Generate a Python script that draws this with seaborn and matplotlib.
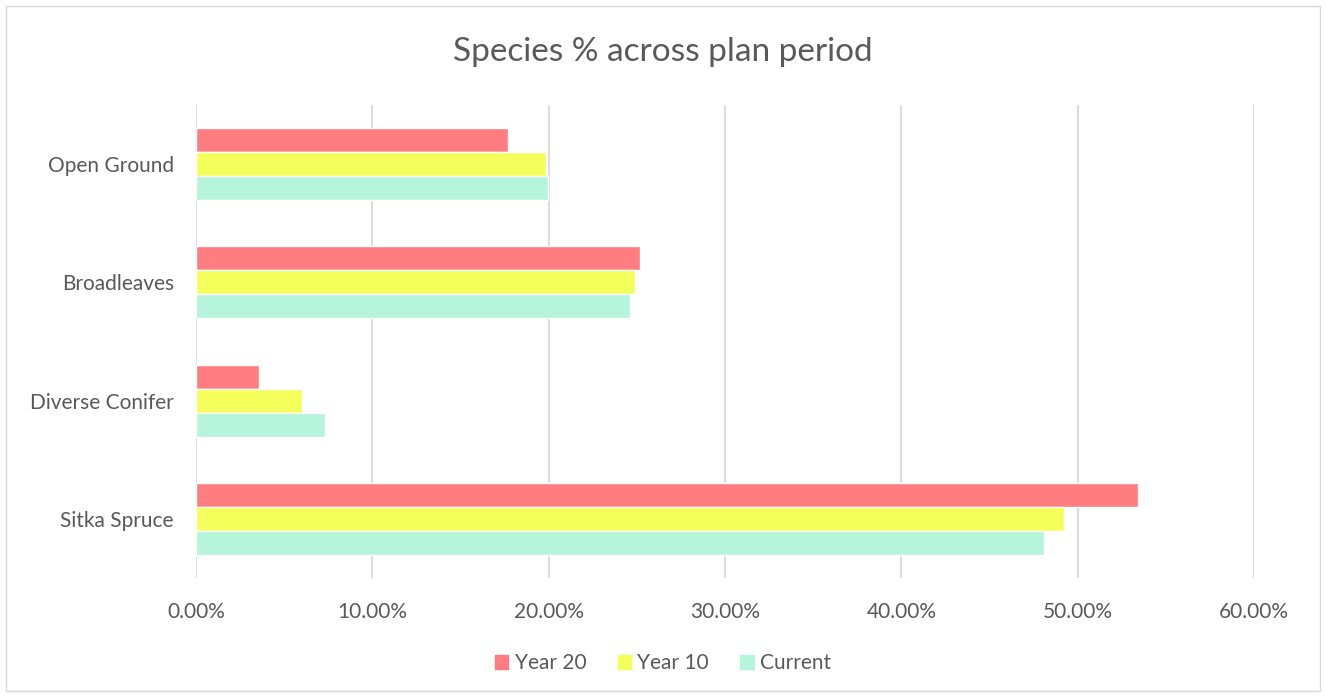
import matplotlib
matplotlib.use("Agg")
import matplotlib.pyplot as plt
import matplotlib.patches as mpatches
import pandas as pd
import seaborn as sns
from matplotlib.ticker import PercentFormatter

# data (percent)
species = ["Open Ground", "Broadleaves", "Diverse Conifer", "Sitka Spruce"]
periods = ["Year 20", "Year 10", "Current"]
year20 = [17.7, 25.2, 3.6, 53.4]
year10 = [19.85, 24.9, 6.0, 49.2]
current = [19.95, 24.6, 7.3, 48.1]

colors = ["#FF7C80", "#F4FF5C", "#B5F5DC"]
grey = "#595959"

rows = []
for name, vals in zip(periods, [year20, year10, current]):
    for sp, v in zip(species, vals):
        rows.append({"species": sp, "period": name, "value": v})
df = pd.DataFrame(rows)

sns.set_style("white")
plt.rcParams["font.family"] = ["Lato", "DejaVu Sans"]

fig = plt.figure(figsize=(13.26, 6.97), dpi=100)
ax = fig.add_axes([196 / 1326, 1 - 578 / 697, (1254 - 196) / 1326, (578 - 105) / 697])

sns.barplot(data=df, x="value", y="species", hue="period", order=species,
            hue_order=periods, palette=colors, width=0.61, orient="h",
            saturation=1, ax=ax, legend=True)

ax.set_xlim(0, 60)
ax.set_ylim(3.5, -0.5)
ax.set_xticks(range(0, 61, 10))
ax.xaxis.set_major_formatter(PercentFormatter(decimals=2))
ax.grid(axis="x", color="#D9D9D9", linewidth=1.3)
ax.set_axisbelow(True)
for s in ax.spines.values():
    s.set_visible(False)
ax.set_xlabel("")
ax.set_ylabel("")
ax.tick_params(axis="x", colors=grey, labelsize=15, length=0, pad=17)
ax.tick_params(axis="y", colors=grey, labelsize=15, length=0, pad=16)

ax.legend_.remove()
handles = [mpatches.Patch(color=c, label=p) for c, p in zip(colors, periods)]
fig.legend(handles=handles, loc="center", bbox_to_anchor=(0.5, 1 - 663 / 697),
           ncol=3, frameon=False, fontsize=15, labelcolor=grey,
           handlelength=0.65, handleheight=0.65, handletextpad=0.3, columnspacing=1.5)

fig.text(0.5, 1 - 52 / 697, "Species % across plan period", ha="center", va="center",
         fontsize=24, color=grey)

fig.patches.append(mpatches.Rectangle((6 / 1326, 6 / 697), 1 - 12 / 1326, 1 - 12 / 697,
                                      transform=fig.transFigure, fill=False,
                                      edgecolor="#D9D9D9", linewidth=1))

fig.savefig("out.png", dpi=100, facecolor="white")
